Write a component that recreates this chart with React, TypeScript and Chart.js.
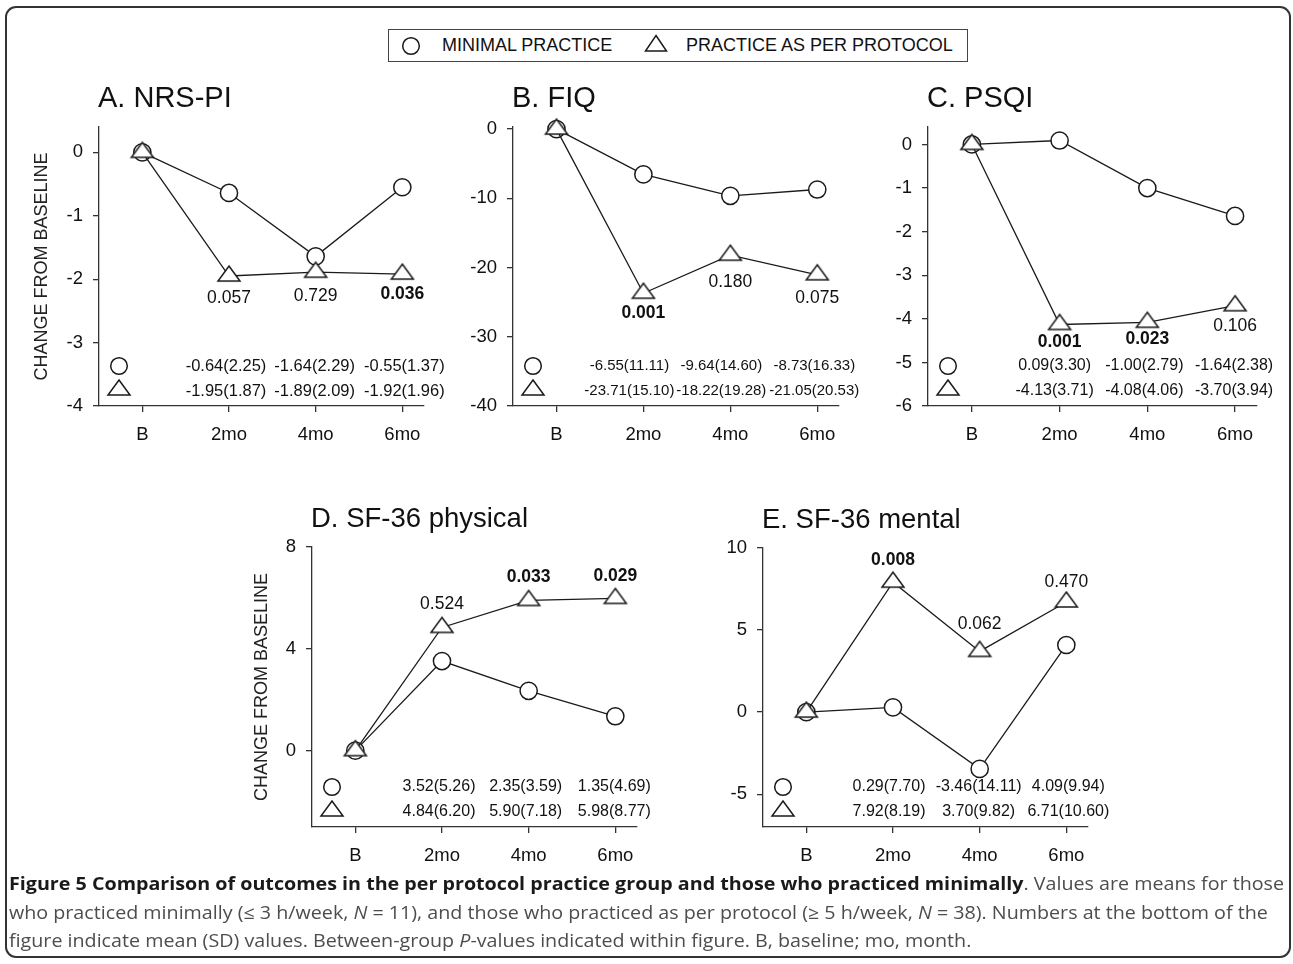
import React, { useEffect, useLayoutEffect, useRef, useState } from 'react';
import { Chart, registerables } from 'chart.js';

Chart.register(...registerables);

// ---------------- data ----------------
const timepoints = ['B', '2mo', '4mo', '6mo'];

const nrsMinimal = [0, -0.64, -1.64, -0.55];
const nrsMinimalSD = [null, 2.25, 2.29, 1.37];
const nrsProtocol = [0, -1.95, -1.89, -1.92];
const nrsProtocolSD = [null, 1.87, 2.09, 1.96];
const nrsP = ['', '0.057', '0.729', '0.036'];
const nrsSig = [false, false, false, true];
const nrsTicks = [0, -1, -2, -3, -4];

const fiqMinimal = [0, -6.55, -9.64, -8.73];
const fiqMinimalSD = [null, 11.11, 14.6, 16.33];
const fiqProtocol = [0, -23.71, -18.22, -21.05];
const fiqProtocolSD = [null, 15.1, 19.28, 20.53];
const fiqP = ['', '0.001', '0.180', '0.075'];
const fiqSig = [false, true, false, false];
const fiqTicks = [0, -10, -20, -30, -40];

const psqiMinimal = [0, 0.09, -1.0, -1.64];
const psqiMinimalSD = [null, 3.3, 2.79, 2.38];
const psqiProtocol = [0, -4.13, -4.08, -3.7];
const psqiProtocolSD = [null, 3.71, 4.06, 3.94];
const psqiP = ['', '0.001', '0.023', '0.106'];
const psqiSig = [false, true, true, false];
const psqiTicks = [0, -1, -2, -3, -4, -5, -6];

const physMinimal = [0, 3.52, 2.35, 1.35];
const physMinimalSD = [null, 5.26, 3.59, 4.69];
const physProtocol = [0, 4.84, 5.9, 5.98];
const physProtocolSD = [null, 6.2, 7.18, 8.77];
const physP = ['', '0.524', '0.033', '0.029'];
const physSig = [false, false, true, true];
const physTicks = [0, 4, 8];

const mentMinimal = [0, 0.29, -3.46, 4.09];
const mentMinimalSD = [null, 7.7, 14.11, 9.94];
const mentProtocol = [0, 7.92, 3.7, 6.71];
const mentProtocolSD = [null, 8.19, 9.82, 10.6];
const mentP = ['', '0.008', '0.062', '0.470'];
const mentSig = [true, true, false, false];
const mentTicks = [-5, 0, 5, 10];

const legendMinimal = 'MINIMAL PRACTICE';
const legendProtocol = 'PRACTICE AS PER PROTOCOL';
const yAxisTitle = 'CHANGE FROM BASELINE';

// ---------------- layout / style ----------------
const FONT = '"Liberation Sans", Arial, Helvetica, sans-serif';
const INK = '#1a1a1a';
const PAD_L = 100;
const PAD_T = 55;
const PAD_R = 50;
const PAD_B = 48;

type Panel = {
  title: string;
  titleSize: number;
  minimal: number[];
  minimalSD: (number | null)[];
  protocol: number[];
  protocolSD: (number | null)[];
  pValues: string[];
  pSig: boolean[];
  yTicks: number[];
  yMin: number;
  yMax: number;
  left: number;
  top: number;
  width: number;
  height: number;
  pOffsets: number[];
  yTitleOffset: number | null;
  meanFont: number;
  meanShift: number[];
};

const panels: Panel[] = [
  {
    title: 'A. NRS-PI', titleSize: 29,
    minimal: nrsMinimal, minimalSD: nrsMinimalSD, protocol: nrsProtocol, protocolSD: nrsProtocolSD,
    pValues: nrsP, pSig: nrsSig, yTicks: nrsTicks, yMin: -4, yMax: 0.4,
    left: 99, top: 127, width: 325, height: 279,
    pOffsets: [0, 22, 24, 20], yTitleOffset: 57, meanFont: 16.5, meanShift: [0, -3, -1, 2],
  },
  {
    title: 'B. FIQ', titleSize: 29,
    minimal: fiqMinimal, minimalSD: fiqMinimalSD, protocol: fiqProtocol, protocolSD: fiqProtocolSD,
    pValues: fiqP, pSig: fiqSig, yTicks: fiqTicks, yMin: -40, yMax: 0.3,
    left: 513, top: 127, width: 326, height: 279,
    pOffsets: [0, 20, 27, 23], yTitleOffset: null, meanFont: 15, meanShift: [0, -14, -9, -3],
  },
  {
    title: 'C. PSQI', titleSize: 29,
    minimal: psqiMinimal, minimalSD: psqiMinimalSD, protocol: psqiProtocol, protocolSD: psqiProtocolSD,
    pValues: psqiP, pSig: psqiSig, yTicks: psqiTicks, yMin: -6, yMax: 0.4,
    left: 928, top: 127, width: 329, height: 279,
    pOffsets: [0, 18, 17, 20], yTitleOffset: null, meanFont: 16, meanShift: [0, -5, -3, -1],
  },
  {
    title: 'D. SF-36 physical', titleSize: 27.5,
    minimal: physMinimal, minimalSD: physMinimalSD, protocol: physProtocol, protocolSD: physProtocolSD,
    pValues: physP, pSig: physSig, yTicks: physTicks, yMin: -3, yMax: 8,
    left: 312, top: 547, width: 325, height: 280,
    pOffsets: [0, -23, -23, -22], yTitleOffset: 50, meanFont: 16, meanShift: [0, -3, -3, -1],
  },
  {
    title: 'E. SF-36 mental', titleSize: 27.5,
    minimal: mentMinimal, minimalSD: mentMinimalSD, protocol: mentProtocol, protocolSD: mentProtocolSD,
    pValues: mentP, pSig: mentSig, yTicks: mentTicks, yMin: -7, yMax: 10,
    left: 763, top: 548, width: 325, height: 279,
    pOffsets: [0, -22, -27, -20], yTitleOffset: null, meanFont: 16, meanShift: [0, -4, -1, 2],
  },
];

function makeTriangle(): HTMLCanvasElement {
  const c = document.createElement('canvas');
  c.width = 26;
  c.height = 24;
  const ctx = c.getContext('2d')!;
  ctx.beginPath();
  ctx.moveTo(13, 2);
  ctx.lineTo(24, 17);
  ctx.lineTo(2, 17);
  ctx.closePath();
  ctx.fillStyle = '#ffffff';
  ctx.fill();
  ctx.lineWidth = 1.5;
  ctx.strokeStyle = INK;
  ctx.stroke();
  return c;
}

function fmt(v: number, sd: number | null) {
  return v.toFixed(2) + '(' + (sd as number).toFixed(2) + ')';
}

function PanelChart({ panel }: { panel: Panel }) {
  const ref = useRef<HTMLCanvasElement>(null);
  const cw = panel.width + PAD_L + PAD_R;
  const ch = panel.height + PAD_T + PAD_B;

  useEffect(() => {
    const tri = makeTriangle();
    const deco = {
      id: 'panelDeco',
      afterDatasetsDraw(chart: any) {
        const ctx = chart.ctx as CanvasRenderingContext2D;
        const a = chart.chartArea;
        ctx.save();
        ctx.fillStyle = '#111';
        // title
        ctx.font = `${panel.titleSize}px ${FONT}`;
        ctx.textAlign = 'left';
        ctx.textBaseline = 'alphabetic';
        ctx.fillText(panel.title, a.left - 1, a.top - 20);
        // y axis title
        if (panel.yTitleOffset !== null) {
          ctx.save();
          ctx.translate(a.left - panel.yTitleOffset, (a.top + a.bottom) / 2);
          ctx.rotate(-Math.PI / 2);
          ctx.font = `18px ${FONT}`;
          ctx.textAlign = 'center';
          ctx.textBaseline = 'middle';
          ctx.fillStyle = '#222';
          ctx.fillText(yAxisTitle, 0, 0);
          ctx.restore();
        }
        // p values
        const triMeta = chart.getDatasetMeta(0);
        const circMeta = chart.getDatasetMeta(1);
        ctx.textAlign = 'center';
        ctx.textBaseline = 'middle';
        for (let i = 1; i < panel.pValues.length; i++) {
          const pt = triMeta.data[i];
          ctx.font = `${panel.pSig[i] ? 'bold ' : ''}17.5px ${FONT}`;
          ctx.fillText(panel.pValues[i], pt.x, pt.y + panel.pOffsets[i]);
        }
        // mean (SD) rows
        ctx.font = `${panel.meanFont}px ${FONT}`;
        const row1 = a.bottom - 40;
        const row2 = a.bottom - 15;
        for (let i = 1; i < panel.minimal.length; i++) {
          const x = circMeta.data[i].x + panel.meanShift[i];
          ctx.fillText(fmt(panel.minimal[i], panel.minimalSD[i]), x, row1);
          ctx.fillText(fmt(panel.protocol[i], panel.protocolSD[i]), x, row2);
        }
        // glyphs
        const gx = a.left + 20;
        ctx.beginPath();
        ctx.arc(gx, row1, 8.3, 0, Math.PI * 2);
        ctx.fillStyle = '#fff';
        ctx.fill();
        ctx.lineWidth = 1.5;
        ctx.strokeStyle = INK;
        ctx.stroke();
        ctx.drawImage(tri, gx - tri.width / 2, row2 - tri.height / 2 - 1);
        ctx.restore();
      },
    };

    const xScale: any = {
      type: 'linear',
      min: -0.5,
      max: 3.25,
      afterBuildTicks: (s: any) => {
        s.ticks = timepoints.map((_, i) => ({ value: i }));
      },
      afterFit: (s: any) => {
        s.height = PAD_B;
      },
      ticks: {
        callback: (v: any) => timepoints[v as number] ?? '',
        font: { size: 18.5, family: FONT },
        color: '#111',
        padding: 12,
        autoSkip: false,
        maxRotation: 0,
      },
      grid: { display: true, drawOnChartArea: false, drawTicks: true, tickLength: 6, color: '#333', lineWidth: 1.3 },
      border: { display: true, color: '#333', width: 1.3 },
    };
    const yScale: any = {
      type: 'linear',
      min: panel.yMin,
      max: panel.yMax,
      afterBuildTicks: (s: any) => {
        s.ticks = panel.yTicks.map((v) => ({ value: v }));
      },
      afterFit: (s: any) => {
        s.width = PAD_L;
      },
      ticks: {
        font: { size: 18.5, family: FONT },
        color: '#111',
        padding: 10,
      },
      grid: { display: true, drawOnChartArea: false, drawTicks: true, tickLength: 6, color: '#333', lineWidth: 1.3 },
      border: { display: true, color: '#333', width: 1.3 },
    };

    const chart = new Chart(ref.current as HTMLCanvasElement, {
      type: 'line',
      data: {
        datasets: [
          {
            label: legendProtocol,
            data: panel.protocol.map((v, i) => ({ x: i, y: v })),
            borderColor: INK,
            borderWidth: 1.3,
            pointStyle: tri as any,
            pointRadius: 10,
            clip: false as any,
            tension: 0,
          },
          {
            label: legendMinimal,
            data: panel.minimal.map((v, i) => ({ x: i, y: v })),
            borderColor: INK,
            borderWidth: 1.3,
            pointStyle: 'circle',
            pointRadius: 8.6,
            pointBorderWidth: 1.5,
            pointBackgroundColor: '#fff',
            pointBorderColor: INK,
            clip: false as any,
            tension: 0,
          },
        ],
      },
      options: {
        animation: false,
        responsive: false,
        events: [],
        layout: { padding: { left: 0, top: PAD_T, right: PAD_R, bottom: 0 } },
        plugins: {
          legend: { display: false },
          tooltip: { enabled: false },
          title: { display: false },
        },
        scales: { x: xScale, y: yScale },
      },
      plugins: [deco],
    });
    return () => chart.destroy();
  }, [panel]);

  return (
    <div
      style={{
        position: 'absolute',
        left: panel.left - PAD_L,
        top: panel.top - PAD_T,
        width: cw,
        height: ch,
      }}
    >
      <canvas ref={ref} width={cw} height={ch} style={{ width: cw, height: ch, display: 'block' }} />
    </div>
  );
}

function Legend() {
  return (
    <div
      style={{
        position: 'absolute',
        left: 388,
        top: 29,
        width: 578,
        height: 31,
        border: '1.5px solid #444',
        fontFamily: FONT,
        fontSize: 18,
        color: '#111',
      }}
    >
      <svg width={24} height={24} style={{ position: 'absolute', left: 10, top: 4 }}>
        <circle cx={12} cy={12} r={8.3} fill="#fff" stroke={INK} strokeWidth={1.5} />
      </svg>
      <span style={{ position: 'absolute', left: 53, top: 5, whiteSpace: 'nowrap' }}>{legendMinimal}</span>
      <svg width={26} height={24} style={{ position: 'absolute', left: 254, top: 3 }}>
        <polygon points="13,2.5 23.5,18 2.5,18" fill="#fff" stroke={INK} strokeWidth={1.5} />
      </svg>
      <span style={{ position: 'absolute', left: 297, top: 5, whiteSpace: 'nowrap' }}>{legendProtocol}</span>
    </div>
  );
}

function Caption() {
  const line1 = useRef<HTMLSpanElement>(null);
  const [scale, setScale] = useState(1);
  useLayoutEffect(() => {
    const el = line1.current;
    if (!el) return;
    const w = el.getBoundingClientRect().width;
    if (w > 0) setScale(1275 / w);
  }, []);
  const lineStyle: React.CSSProperties = { whiteSpace: 'nowrap', height: 28.5, lineHeight: '28.5px' };
  return (
    <div
      style={{
        position: 'absolute',
        left: 9,
        top: 869,
        fontFamily: '"Open Sans", "Noto Sans", sans-serif',
        fontSize: 17.5,
        color: '#4d4d4d',
        transform: `scaleX(${scale})`,
        transformOrigin: 'left top',
      }}
    >
      <div style={lineStyle}>
        <span ref={line1} style={{ display: 'inline-block' }}>
          <b style={{ color: '#1a1a1a' }}>
            Figure 5 Comparison of outcomes in the per protocol practice group and those who practiced minimally
          </b>
          . Values are means for those
        </span>
      </div>
      <div style={lineStyle}>
        who practiced minimally (≤ 3 h/week, <i>N</i> = 11), and those who practiced as per protocol (≥ 5 h/week,{' '}
        <i>N</i> = 38). Numbers at the bottom of the
      </div>
      <div style={lineStyle}>
        figure indicate mean (SD) values. Between-group <i>P</i>-values indicated within figure. B, baseline; mo, month.
      </div>
    </div>
  );
}

export default function App() {
  return (
    <div
      style={{
        position: 'absolute',
        left: 0,
        top: 0,
        width: 1293,
        height: 964,
        background: '#fff',
        overflow: 'hidden',
      }}
    >
      <div
        style={{
          position: 'absolute',
          left: 5,
          top: 6,
          width: 1282,
          height: 948,
          border: '2px solid #333',
          borderRadius: 11,
        }}
      />
      <Legend />
      {panels.map((p) => (
        <PanelChart key={p.title} panel={p} />
      ))}
      <Caption />
    </div>
  );
}
